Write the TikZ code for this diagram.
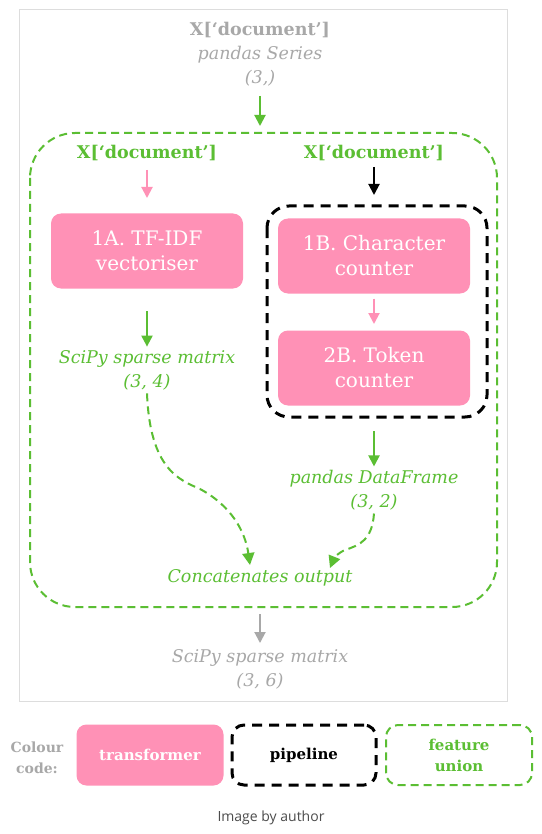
\documentclass[tikz,border=0pt]{standalone}
\usepackage{fontspec}
\setmainfont{DejaVu Serif}
\setsansfont{Open Sans}
\usetikzlibrary{arrows.meta}
\definecolor{pinkc}{HTML}{FF91B6}
\definecolor{greenc}{HTML}{5BBE33}
\definecolor{grayc}{HTML}{A8A8A8}
\definecolor{framec}{HTML}{DDDDDD}
\tikzset{
  tbox/.style={fill=pinkc, rounded corners=10pt, minimum width=192pt, minimum height=75pt, text=white, align=center, font=\fontsize{20}{25}\selectfont},
  pipebox/.style={draw=black, line width=3pt, dash pattern=on 10pt off 7pt, rounded corners=22pt},
  unionbox/.style={draw=greenc, line width=2pt, dash pattern=on 8pt off 5pt, rounded corners=45pt},
  head/.style={font=\fontsize{17.5}{22}\selectfont\bfseries, align=center},
  lab/.style={font=\fontsize{17.5}{24}\selectfont\itshape, align=center},
  arr/.style={-{Triangle[length=11pt,width=11pt]}, line width=2pt},
  darr/.style={-{Triangle[length=12pt,width=12pt]}, line width=2pt, dash pattern=on 8pt off 5pt, draw=greenc},
}
\begin{document}
\begin{tikzpicture}[x=1pt,y=-1pt]
\useasboundingbox (0,0) rectangle (541,834);
\fill[white] (0,0) rectangle (541,834);
% outer frame
\draw[framec, line width=1pt] (19,10) rectangle (507,701);
% top input
\node[head, text=grayc] (top) at (260,30) {X[‘document’]};
\node[lab, text=grayc] (topl) at (260,66) {pandas Series\\(3,)};
% feature union
\draw[unionbox] (30,133) rectangle (497,607);
\coordinate (uTop) at (260,126);
\draw[arr, greenc] (260,96) -- (uTop);
\node[head, text=greenc] (xl) at (147,153) {X[‘document’]};
\node[head, text=greenc] (xr) at (374,153) {X[‘document’]};
% pipeline
\draw[pipebox] (267,206) rectangle (487,417);
\node[tbox] (a1) at (147,251) {1A. TF-IDF\\vectoriser};
\node[tbox] (b1) at (374,256) {1B. Character\\counter};
\node[tbox] (b2) at (374,368) {2B. Token\\counter};
\coordinate (pa) at (147,170);
\coordinate (pb) at (374,167);
\draw[arr, pinkc] (pa) -- (a1.north |- 0,198);
\coordinate (blk) at (374,195);
\draw[arr, black] (pb) -- (blk);
\draw[arr, pinkc] (b1.south) ++(0,5) -- (374,324);
% outputs
\node[lab, text=greenc] (sp) at (147,370) {SciPy sparse matrix\\(3, 4)};
\draw[arr, greenc] (147,311) -- (sp.north);
\node[lab, text=greenc] (pd) at (374,490) {pandas DataFrame\\(3, 2)};
\draw[arr, greenc] (374,431) -- (pd.north);
\node[lab, text=greenc] (cat) at (260,578) {Concatenates output};
\draw[darr] (sp.south) .. controls (150,470) and (180,480) .. (200,489) .. controls (230,505) and (245,530) .. (250,565);
\draw[darr] (pd.south) .. controls (372,540) and (360,545) .. (345,550) .. controls (338,553) and (334,558) .. (330,568);
% output
\node[lab, text=grayc] (out) at (260,669) {SciPy sparse matrix\\(3, 6)};
\draw[arr, grayc] (260,614) -- (260,643);
% legend
\node[font=\fontsize{14}{21}\selectfont\bfseries, text=grayc, align=center] (cc) at (37,758) {Colour\\code:};
\node[fill=pinkc, rounded corners=10pt, minimum width=147pt, minimum height=61pt, text=white, font=\fontsize{15}{20}\selectfont\bfseries] (lt) at (150,755) {transformer};
\node[pipebox, rounded corners=12pt, minimum width=144pt, minimum height=60pt, font=\fontsize{15}{20}\selectfont\bfseries] (lp) at (304,755) {pipeline};
\node[draw=greenc, line width=2pt, dash pattern=on 8pt off 5pt, rounded corners=12pt, minimum width=146pt, minimum height=60pt, text=greenc, align=center, font=\fontsize{15}{21}\selectfont\bfseries] (lf) at (459,755) {feature\\union};
\node[font=\sffamily\fontsize{14}{16}\selectfont, text=black!70] (cap) at (271,818) {Image by author};
\end{tikzpicture}
\end{document}
